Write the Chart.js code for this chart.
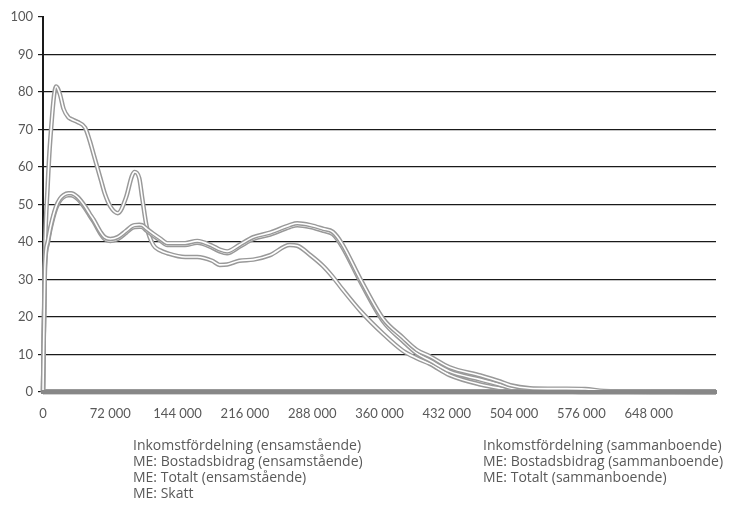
<!DOCTYPE html>
<html>
<head>
<meta charset="utf-8">
<script src="https://cdn.jsdelivr.net/npm/chart.js@4.4.1/dist/chart.umd.min.js"></script>
<style>
    html, body { margin: 0; padding: 0; background: #ffffff; }
    #wrap { position: relative; width: 735px; height: 513px; }
    #chart { position: absolute; left: 0; top: 0; }
    .legend { position: absolute; top: 437px; font-family: "Open Sans", Lato, sans-serif; font-size: 14px; line-height: 16px; color: #595959; white-space: nowrap; }
    #legendLeft { left: 133px; }
    #legendRight { left: 483px; }
</style>
</head>
<body>
<div id="wrap">
    <canvas id="chart" width="735" height="513"></canvas>
    <div class="legend" id="legendLeft"></div>
    <div class="legend" id="legendRight"></div>
</div>
<script>
// ==================== DATA ====================
// income levels (kr), shared by all series
const incomes = [0, 2000, 5000, 8000, 14000, 18000, 22000, 27000, 30000, 37000,
    45000, 50000, 54000, 62000, 66000, 72000, 80000, 89000, 95000, 98000,
    103000, 106000, 111000, 118000, 125000, 133000, 152000, 165000, 181000, 189000,
    197000, 210000, 225000, 243000, 264000, 272000, 286000, 300000, 310000, 320000,
    340000, 364000, 385000, 400000, 414000, 435000, 468000, 489000, 500000, 521000,
    540000, 560000, 580000, 600000, 650000, 720000];

const seriesNames = [
    'Inkomstfördelning (ensamstående)',
    'ME: Bostadsbidrag (ensamstående)',
    'ME: Totalt (ensamstående)',
    'ME: Skatt',
    'Inkomstfördelning (sammanboende)',
    'ME: Bostadsbidrag (sammanboende)',
    'ME: Totalt (sammanboende)'
];

const inkomstEns = [0, 0.1, 0.1, 0.1, 0.1, 0.1, 0.1, 0.1, 0.1, 0.1,
    0.1, 0.1, 0.1, 0.1, 0.1, 0.1, 0.1, 0.1, 0.1, 0.1,
    0.1, 0.1, 0.1, 0.1, 0.1, 0.1, 0.1, 0.1, 0.1, 0.1,
    0.1, 0.1, 0.1, 0.1, 0.1, 0.1, 0.1, 0.1, 0.1, 0.1,
    0.1, 0.1, 0.1, 0.1, 0.1, 0.1, 0.1, 0.1, 0.1, 0.1,
    0.1, 0.1, 0.1, 0.1, 0.1, 0.1];

const bostadEns = [0, 0, 0, 0, 0, 0, 0, 0, 0, 0,
    0, 0, 0, 0, 0, 0, 0, 0, 0, 0,
    0, 0, 0, 0, 0, 0, 0, 0, 0, 0,
    0, 0, 0, 0, 0, 0, 0, 0, 0, 0,
    0, 0, 0, 0, 0, 0, 0, 0, 0, 0,
    0, 0, 0, 0, 0, 0];

const totaltEns = [0, 36, 55, 68, 81.5, 79.5, 75.5, 73.3, 72.8, 72,
    70.5, 67, 63.5, 56.5, 53, 49.5, 47.7, 52, 57.5, 58.7,
    57, 52, 44, 39.2, 37.8, 37, 36, 36, 35, 33.9,
    34, 35, 35.3, 36.5, 39.2, 39, 36.5, 33.5, 30.7, 27.5,
    21.5, 15.5, 11, 9, 7.5, 4.5, 2, 1, 0.6, 0.3,
    0.2, 0.1, 0, 0, 0, 0];

const skatt = [0, 32.4, 39.5, 43.5, 49, 51, 52, 52.5, 52.5, 51.5,
    49, 47, 45.5, 42, 40.8, 40.3, 40.8, 42.5, 43.7, 44,
    44.1, 44, 43, 41.7, 40.5, 39.2, 39.2, 39.8, 38.5, 37.5,
    37, 38.7, 40.8, 42, 44, 44.5, 44, 43, 42.1, 38.8,
    29.2, 18.8, 13.6, 10.3, 8.4, 5.5, 3.3, 1.9, 1.1, 0.5,
    0.4, 0.3, 0.2, 0.1, 0, 0];

const inkomstSamm = [0, 0.2, 0.2, 0.2, 0.2, 0.2, 0.2, 0.2, 0.2, 0.2,
    0.2, 0.2, 0.2, 0.2, 0.2, 0.2, 0.2, 0.2, 0.2, 0.2,
    0.2, 0.2, 0.2, 0.2, 0.2, 0.2, 0.2, 0.2, 0.2, 0.2,
    0.2, 0.2, 0.2, 0.2, 0.2, 0.2, 0.2, 0.2, 0.2, 0.2,
    0.2, 0.2, 0.2, 0.2, 0.2, 0.2, 0.2, 0.2, 0.2, 0.2,
    0.2, 0.2, 0.2, 0.2, 0.2, 0.2];

const bostadSamm = [0, 0, 0, 0, 0, 0, 0, 0, 0, 0,
    0, 0, 0, 0, 0, 0, 0, 0, 0, 0,
    0, 0, 0, 0, 0, 0, 0, 0, 0, 0,
    0, 0, 0, 0, 0, 0, 0, 0, 0, 0,
    0, 0, 0, 0, 0, 0, 0, 0, 0, 0,
    0, 0, 0, 0, 0, 0];

const totaltSamm = [0, 33, 40, 44, 49.5, 51.5, 52.5, 53, 53, 52,
    49.5, 47.5, 46, 42.5, 41.3, 40.8, 41.3, 43, 44.2, 44.5,
    44.6, 44.5, 43.5, 42.2, 41, 39.7, 39.7, 40.3, 39, 38,
    37.5, 39.2, 41.3, 42.5, 44.5, 45, 44.5, 43.5, 42.7, 39.5,
    29.9, 19.5, 14.5, 11.2, 9.5, 6.6, 4.4, 2.8, 1.8, 1,
    0.9, 0.9, 0.8, 0.3, 0.1, 0];

const seriesValues = [inkomstEns, bostadEns, totaltEns, skatt, inkomstSamm, bostadSamm, totaltSamm];

const yTicks = [0, 10, 20, 30, 40, 50, 60, 70, 80, 90, 100];
const xStep = 72000;
const xMax = 720000;

// ==================== HELPERS ====================
function formatKr(value) {
    return String(value).replace(/\B(?=(\d{3})+(?!\d))/g, ' ');
}

function toPoints(values) {
    return incomes.map((x, i) => ({ x: x, y: values[i] }));
}

// Excel style double line: grey outer stroke with a white core, per series
const datasets = [];
seriesValues.forEach((values, i) => {
    const common = {
        data: toPoints(values),
        pointRadius: 0,
        cubicInterpolationMode: 'monotone',
        clip: false
    };
    datasets.push(Object.assign({}, common, {
        label: seriesNames[i],
        borderColor: '#999999',
        borderWidth: 4.5,
        order: 100 - 2 * i
    }));
    datasets.push(Object.assign({}, common, {
        label: seriesNames[i] + ' core',
        borderColor: '#ffffff',
        borderWidth: 1.6,
        order: 99 - 2 * i
    }));
});

// ==================== CHART ====================
const font = { family: 'Lato, "Open Sans", sans-serif', size: 13 };

const ctx = document.getElementById('chart').getContext('2d');
const chart = new Chart(ctx, {
    type: 'line',
    data: { datasets: datasets },
    options: {
        responsive: false,
        animation: false,
        layout: { padding: { top: 17, right: 19, left: 0, bottom: 0 } },
        plugins: {
            legend: { display: false },
            tooltip: { enabled: false }
        },
        scales: {
            x: {
                type: 'linear',
                min: 0,
                max: xMax,
                afterFit: function(scale) { scale.height = 121; },
                afterBuildTicks: function(scale) {
                    scale.ticks = [];
                    for (let v = 0; v <= xMax; v += xStep) scale.ticks.push({ value: v });
                },
                grid: { display: false },
                // the grey band along the bottom, drawn over the series lying at zero
                border: { display: true, color: '#878787', width: 4, z: 1 },
                ticks: {
                    color: '#595959',
                    font: font,
                    padding: 6,
                    maxRotation: 0,
                    autoSkip: false,
                    callback: function(value) { return value >= xMax ? '' : formatKr(value); }
                }
            },
            y: {
                min: 0,
                max: 100,
                afterFit: function(scale) { scale.width = 43; },
                afterBuildTicks: function(scale) {
                    scale.ticks = yTicks.map(v => ({ value: v }));
                },
                grid: {
                    color: function(c) { return c.tick && (c.tick.value === 100 || c.tick.value === 0) ? 'rgba(0,0,0,0)' : '#1a1a1a'; },
                    tickColor: '#1a1a1a',
                    tickLength: 5,
                    lineWidth: 1.2
                },
                border: { display: true, color: '#1a1a1a', width: 2 },
                ticks: {
                    color: '#595959',
                    font: font,
                    padding: 5
                }
            }
        }
    }
});

// ==================== LEGEND ====================
const leftNames = [seriesNames[0], seriesNames[1], seriesNames[2], seriesNames[3]];
const rightNames = [seriesNames[4], seriesNames[5], seriesNames[6]];
document.getElementById('legendLeft').innerHTML = leftNames.map(n => '<div>' + n + '</div>').join('');
document.getElementById('legendRight').innerHTML = rightNames.map(n => '<div>' + n + '</div>').join('');
</script>
</body>
</html>
